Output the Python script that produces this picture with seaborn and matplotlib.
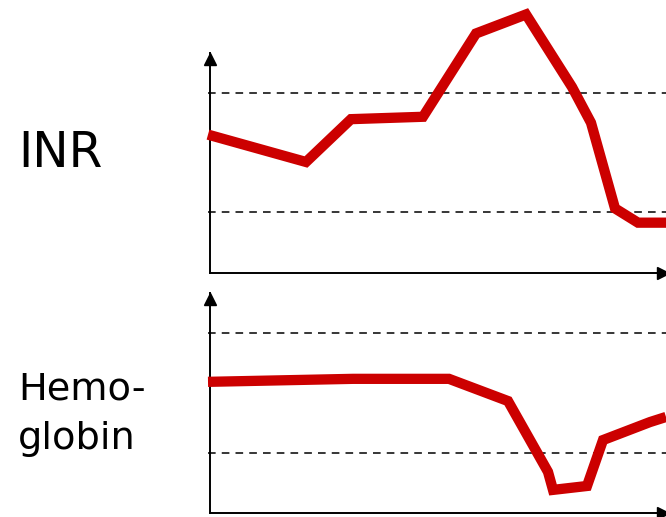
import numpy as np
import pandas as pd
import matplotlib
matplotlib.use('Agg')
import matplotlib.pyplot as plt
import seaborn as sns

# time axis (days) and values
inr_days = [-0.1, 4.8, 7.05, 10.65, 13.3, 15.8, 18.1, 19.05, 20.25, 21.4, 22.8]
inr_vals = [2.65, 2.42, 2.78, 2.80, 3.50, 3.66, 3.05, 2.75, 2.03, 1.91, 1.91]
inr_range = [2.0, 3.0]

hb_days = [-0.1, 7.15, 11.95, 14.9, 16.9, 17.15, 18.85, 19.65, 22.0, 22.8]
hb_vals = [14.37, 14.47, 14.47, 13.73, 11.37, 10.77, 10.9, 12.43, 13.03, 13.2]
hb_range = [12.0, 16.0]

labels = ['INR', 'Hemo-', 'globin']

sns.set_style('white')
plt.rcParams['font.family'] = ['DejaVu Sans']
plt.rcParams['text.color'] = 'black'

fig = plt.figure(figsize=(6.66, 5.17), dpi=100)
ax_top = fig.add_axes([210 / 666, 1 - 273 / 517, 456 / 666, 220 / 517])
ax_bot = fig.add_axes([210 / 666, 1 - 513 / 517, 456 / 666, 220 / 517])

red = '#cc0000'


def panel(ax, days, vals, rng, ylim):
    df = pd.DataFrame({'day': days, 'value': vals})
    for r in rng:
        ax.axhline(r, xmin=-0.005, xmax=1, color='black', lw=1.1,
                   ls=(0, (5, 4)), clip_on=False, zorder=1)
    sns.lineplot(data=df, x='day', y='value', ax=ax, color=red, lw=7.4,
                 solid_joinstyle='miter', solid_capstyle='butt',
                 clip_on=False, zorder=3)
    ax.set_xlim(0, 22.8)
    ax.set_ylim(*ylim)
    ax.set_xticks([])
    ax.set_yticks([])
    ax.set_xlabel('')
    ax.set_ylabel('')
    for s in ['top', 'right']:
        ax.spines[s].set_visible(False)
    for s in ['left', 'bottom']:
        ax.spines[s].set_color('black')
        ax.spines[s].set_linewidth(1.4)
    # arrow heads
    ax.plot([0], [1 - 6 / 220], marker='^', color='black', ms=8.6,
            transform=ax.transAxes, clip_on=False, zorder=4)
    ax.plot([(663 - 210) / 456], [0], marker='>', color='black', ms=8.6,
            transform=ax.transAxes, clip_on=False, zorder=4)


panel(ax_top, inr_days, inr_vals, inr_range, (1.487, 3.336))
panel(ax_bot, hb_days, hb_vals, hb_range, (10.0, 17.33))

fig.text(18 / 666, 1 - 167 / 517, labels[0], fontsize=35, ha='left', va='baseline')
fig.text(18 / 666, 1 - 400 / 517, labels[1], fontsize=27.5, ha='left', va='baseline')
fig.text(18 / 666, 1 - 449 / 517, labels[2], fontsize=27.5, ha='left', va='baseline')

fig.savefig('out.png', dpi=100)
